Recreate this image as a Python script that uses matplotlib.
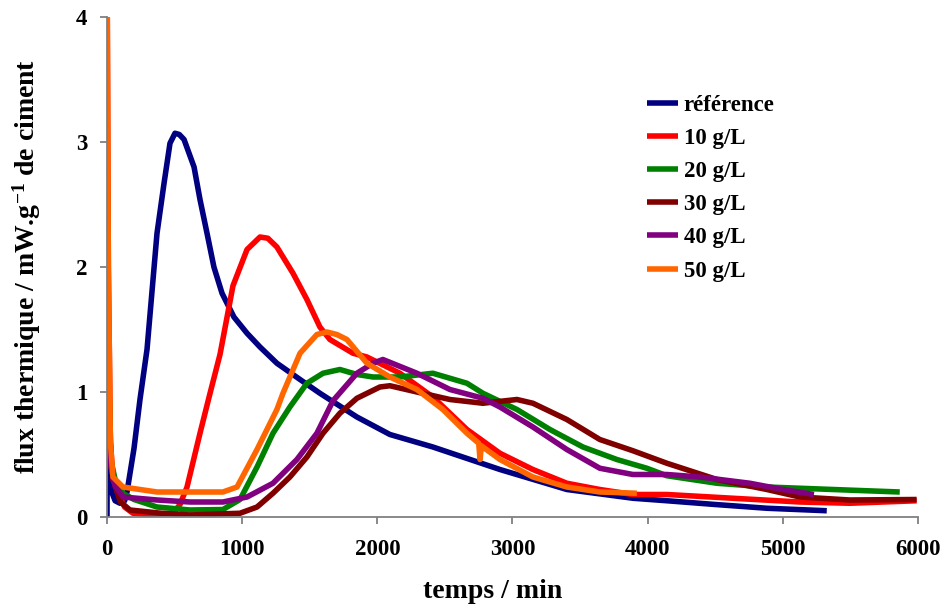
import matplotlib
matplotlib.use("Agg")
import matplotlib.pyplot as plt

plt.rcParams['font.family'] = ['Liberation Serif', 'DejaVu Serif']
plt.rcParams['font.weight'] = 'bold'
plt.rcParams['mathtext.fontset'] = 'custom'
plt.rcParams['mathtext.rm'] = 'Liberation Serif:bold'
plt.rcParams['mathtext.bf'] = 'Liberation Serif:bold'
plt.rcParams['mathtext.default'] = 'bf'

labels = ["référence", "10 g/L", "20 g/L", "30 g/L", "40 g/L", "50 g/L"]
colors = ["#000080", "#FF0000", "#008000", "#800000", "#800080", "#FF6600"]

ref_x = [0, 3, 15, 35, 60, 96, 130, 148, 200, 244, 296, 370, 422, 466, 503, 535, 570, 644, 688, 740, 791, 851, 939, 1036, 1132, 1257, 1428, 1575, 1849, 2093, 2411, 2907, 3402, 3891, 4142, 4500, 4882, 5325]
ref_y = [0, 1.1, 0.45, 0.2, 0.13, 0.11, 0.13, 0.2, 0.55, 0.94, 1.34, 2.27, 2.67, 2.99, 3.07, 3.06, 3.02, 2.8, 2.54, 2.27, 2.0, 1.79, 1.6, 1.47, 1.36, 1.23, 1.1, 0.99, 0.80, 0.66, 0.56, 0.38, 0.22, 0.15, 0.13, 0.10, 0.07, 0.05]

g10_x = [0, 10, 25, 45, 80, 130, 192, 300, 488, 540, 592, 688, 760, 836, 932, 1036, 1132, 1190, 1257, 1376, 1479, 1575, 1649, 1820, 1923, 2167, 2411, 2663, 2907, 3151, 3402, 3646, 3891, 4142, 4630, 5126, 5495, 5990]
g10_y = [4.5, 2.0, 0.6, 0.3, 0.2, 0.08, 0.03, 0.02, 0.03, 0.1, 0.24, 0.67, 0.98, 1.3, 1.85, 2.14, 2.24, 2.23, 2.16, 1.95, 1.74, 1.52, 1.42, 1.31, 1.28, 1.15, 0.96, 0.70, 0.51, 0.38, 0.27, 0.22, 0.18, 0.18, 0.15, 0.12, 0.11, 0.13]

g20_x = [0, 10, 30, 60, 118, 200, 370, 614, 858, 984, 1110, 1228, 1353, 1479, 1598, 1723, 1850, 1967, 2167, 2411, 2663, 2781, 3033, 3277, 3521, 3772, 3994, 4142, 4512, 4882, 5370, 5865]
g20_y = [3.0, 1.2, 0.45, 0.3, 0.19, 0.14, 0.08, 0.056, 0.06, 0.14, 0.4, 0.67, 0.88, 1.07, 1.15, 1.18, 1.14, 1.12, 1.12, 1.15, 1.07, 0.99, 0.86, 0.70, 0.56, 0.46, 0.39, 0.33, 0.27, 0.24, 0.22, 0.20]

g30_x = [0, 10, 30, 60, 100, 170, 400, 614, 984, 1110, 1228, 1353, 1479, 1598, 1723, 1849, 2019, 2093, 2293, 2537, 2781, 3033, 3151, 3402, 3646, 3891, 4142, 4512, 4882, 5126, 5495, 5990]
g30_y = [3.0, 1.0, 0.4, 0.25, 0.12, 0.056, 0.03, 0.016, 0.03, 0.08, 0.19, 0.32, 0.48, 0.67, 0.83, 0.95, 1.04, 1.05, 1.0, 0.94, 0.91, 0.94, 0.91, 0.78, 0.62, 0.53, 0.43, 0.30, 0.22, 0.16, 0.136, 0.14]

g40_x = [0, 10, 30, 60, 118, 370, 614, 858, 1036, 1228, 1405, 1553, 1672, 1849, 1967, 2041, 2293, 2537, 2781, 2907, 3151, 3402, 3646, 3891, 4142, 4386, 4756, 5000, 5230]
g40_y = [3.0, 1.0, 0.4, 0.25, 0.16, 0.136, 0.12, 0.12, 0.16, 0.27, 0.46, 0.67, 0.93, 1.15, 1.23, 1.26, 1.15, 1.02, 0.95, 0.88, 0.72, 0.54, 0.39, 0.34, 0.34, 0.32, 0.27, 0.22, 0.18]

g50_x = [0, 10, 25, 44, 118, 370, 614, 858, 962, 1110, 1257, 1302, 1428, 1553, 1627, 1700, 1775, 1923, 2093, 2293, 2485, 2663, 2750, 2760, 2770, 2781, 2907, 3151, 3402, 3646, 3920]
g50_y = [4.5, 2.0, 0.6, 0.32, 0.24, 0.2, 0.2, 0.2, 0.24, 0.54, 0.86, 0.99, 1.31, 1.46, 1.48, 1.46, 1.42, 1.23, 1.12, 1.02, 0.86, 0.67, 0.59, 0.46, 0.57, 0.56, 0.46, 0.32, 0.24, 0.2, 0.19]

series = [(ref_x, ref_y), (g10_x, g10_y), (g20_x, g20_y), (g30_x, g30_y), (g40_x, g40_y), (g50_x, g50_y)]

fig = plt.figure(figsize=(9.45, 6.09), dpi=100)
ax = fig.add_axes([107/945, 1-517/609, (918-107)/945, (517-17)/609])

for (xs, ys), lab, c in zip(series, labels, colors):
    ax.plot(xs, ys, color=c, lw=4.0, label=lab, solid_joinstyle='round', solid_capstyle='butt')

ax.set_xlim(0, 6000)
ax.set_ylim(0, 4)
ax.set_xticks([0, 1000, 2000, 3000, 4000, 5000, 6000])
ax.set_yticks([0, 1, 2, 3, 4])
for s in ['top', 'right']:
    ax.spines[s].set_visible(False)
for s in ['left', 'bottom']:
    ax.spines[s].set_color('#808080')
    ax.spines[s].set_linewidth(1.3)
ax.tick_params(axis='both', direction='out', length=5, width=1.3, color='#808080',
               labelsize=16.5)
ax.tick_params(axis='x', pad=11)
ax.tick_params(axis='y', pad=9)
for t in ax.get_xticklabels() + ax.get_yticklabels():
    t.set_fontweight('bold')

ax.set_xlabel("temps / min", fontsize=20, fontweight='bold')
ax.set_ylabel(r"flux thermique / mW.g$^{-1}$ de ciment", fontsize=20, fontweight='bold')
ax.xaxis.set_label_coords(0.475, -0.125)
ax.yaxis.set_label_coords(-0.079, 0.502)

leg = ax.legend(frameon=False, loc='upper left', bbox_to_anchor=(0.646, 0.877),
                handlelength=1.35, handletextpad=0.25, labelspacing=0.53,
                borderpad=0.2, prop={'weight': 'bold', 'size': 16.5})

fig.savefig("out.png", dpi=100)
